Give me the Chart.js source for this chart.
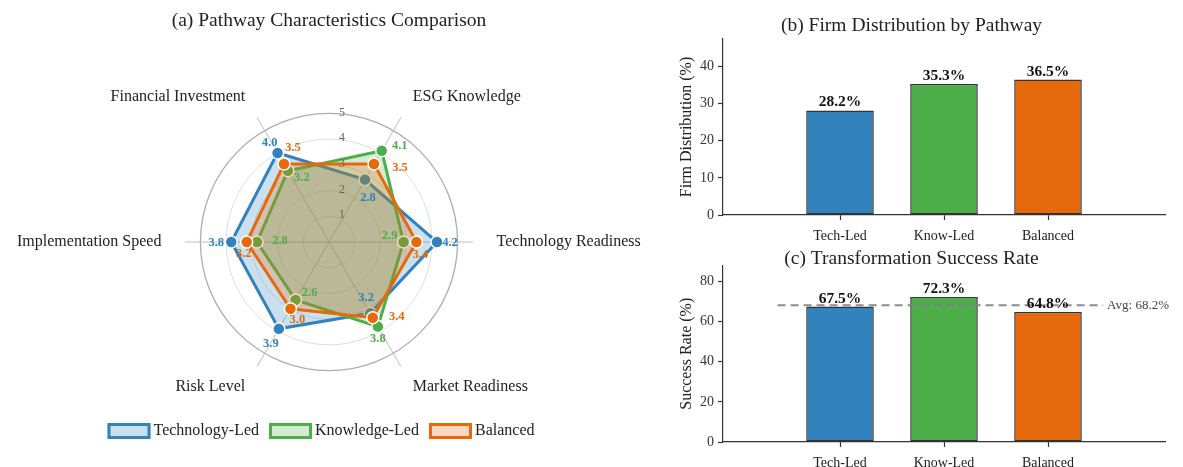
<!DOCTYPE html>
<html>
<head>
<meta charset="utf-8">
<script src="https://cdn.jsdelivr.net/npm/chart.js@4.4.1/dist/chart.umd.min.js"></script>
<style>
  body { margin: 0; background: #fff; }
  #wrap { position: relative; width: 1183px; height: 467px; overflow: hidden; }
  canvas { position: absolute; }
  #radar { left: 0; top: 0; }
  #firms { left: 658px; top: 0; }
  #success { left: 658px; top: 245px; }
</style>
</head>
<body>
<div id="wrap">
  <canvas id="radar" width="658" height="467"></canvas>
  <canvas id="firms" width="525" height="245"></canvas>
  <canvas id="success" width="525" height="222"></canvas>
</div>
<script>
// Radar dimensions, listed clockwise starting from the right-hand axis
const dimensions = ['Technology Readiness', 'Market Readiness', 'Risk Level',
                    'Implementation Speed', 'Financial Investment', 'ESG Knowledge'];
const techLed = [4.2, 3.2, 3.9, 3.8, 4.0, 2.8];
const knowLed = [2.9, 3.8, 2.6, 2.8, 3.2, 4.1];
const balanced = [3.4, 3.4, 3.0, 3.2, 3.5, 3.5];
const radarTicks = [1, 2, 3, 4, 5];

// Bar panels
const pathways = ['Tech-Led', 'Know-Led', 'Balanced'];
const firmShare = [28.2, 35.3, 36.5];
const successRate = [67.5, 72.3, 64.8];
const avgSuccess = 68.2;
const avgSpan = [-0.6, 2.53];

// pixel nudges for the value labels on the radar (one pair per dimension)
const techShift = [[13, 1], [-4, -15], [-8, 15], [-15, 1], [-8, -10], [3, 18]];
const knowShift = [[-14, -6], [0, 12], [14, -7], [23, -1], [14, 7], [18, -5]];
const balShift = [[4, 13], [24, -1], [7, 11], [-3, 12], [9, -16], [26, 4]];
const labelShift = [techShift, knowShift, balShift];

const SERIF = '"Liberation Serif", "Times New Roman", serif';
const BLUE = '#3182bd';
const GREEN = '#4daf4a';
const ORANGE = '#e6690b';
const PATH_COLORS = [BLUE, GREEN, ORANGE];

Chart.defaults.font.family = SERIF;
Chart.defaults.color = '#222';

function fade(hex, a) {
    const n = parseInt(hex.slice(1), 16);
    return `rgba(${(n >> 16) & 255}, ${(n >> 8) & 255}, ${n & 255}, ${a})`;
}

function radarSeries(label, data, color, order) {
    return {
        label: label,
        data: data,
        order: order,
        fill: true,
        borderColor: color,
        backgroundColor: fade(color, 0.25),
        borderWidth: 3,
        pointRadius: 6,
        pointHoverRadius: 6,
        pointBackgroundColor: color,
        pointBorderColor: '#fff',
        pointBorderWidth: 1.5
    };
}

// Text for the radar: ring numbers, dimension names, values and the legend
const radarText = {
    id: 'radarText',
    afterDatasetsDraw(chart) {
        const ctx = chart.ctx;
        const r = chart.scales.r;
        ctx.save();
        ctx.textBaseline = 'middle';

        ctx.font = '12px ' + SERIF;
        ctx.fillStyle = '#666';
        ctx.textAlign = 'center';
        radarTicks.forEach(t => {
            ctx.fillText(String(t), r.xCenter + 13, r.yCenter - r.getDistanceFromCenterForValue(t) - 1);
        });

        ctx.font = '16px ' + SERIF;
        ctx.fillStyle = '#222';
        const nameDist = r.getDistanceFromCenterForValue(5) + 39;
        chart.data.labels.forEach((name, i) => {
            const p = r.getPointPosition(i, nameDist);
            ctx.textAlign = p.x > r.xCenter + 1 ? 'left' : (p.x < r.xCenter - 1 ? 'right' : 'center');
            ctx.fillText(name, p.x, p.y);
        });

        ctx.font = 'bold 12.5px ' + SERIF;
        ctx.textAlign = 'center';
        chart.data.datasets.forEach((ds, d) => {
            ctx.fillStyle = ds.borderColor;
            ds.data.forEach((v, i) => {
                const p = r.getPointPositionForValue(i, v);
                const s = labelShift[d][i];
                ctx.fillText(v.toFixed(1), p.x + s[0], p.y + s[1]);
            });
        });
        ctx.restore();
    },
    afterDraw(chart) {
        // legend row under the radar
        const ctx = chart.ctx;
        const r = chart.scales.r;
        const boxW = 43, boxH = 16, gap = 3, spacing = 10;
        ctx.save();
        ctx.font = '16px ' + SERIF;
        const items = chart.data.datasets.map(ds => ({ ds: ds, w: ctx.measureText(ds.label).width }));
        const total = items.reduce((s, it) => s + boxW + gap + it.w, 0) + spacing * (items.length - 1);
        let x = r.xCenter - 8 - total / 2;
        const y = 431;
        items.forEach(it => {
            ctx.fillStyle = '#fff';
            ctx.fillRect(x, y - boxH / 2, boxW, boxH);
            ctx.fillStyle = it.ds.backgroundColor;
            ctx.fillRect(x, y - boxH / 2, boxW, boxH);
            ctx.lineWidth = 3;
            ctx.strokeStyle = it.ds.borderColor;
            ctx.strokeRect(x + 1.5, y - boxH / 2 + 1.5, boxW - 3, boxH - 3);
            ctx.fillStyle = '#222';
            ctx.textAlign = 'left';
            ctx.textBaseline = 'middle';
            ctx.fillText(it.ds.label, x + boxW + gap, y);
            x += boxW + gap + it.w + spacing;
        });
        ctx.restore();
    }
};

new Chart(document.getElementById('radar'), {
    type: 'radar',
    data: {
        labels: dimensions,
        datasets: [
            radarSeries('Technology-Led', techLed, BLUE, 3),
            radarSeries('Knowledge-Led', knowLed, GREEN, 2),
            radarSeries('Balanced', balanced, ORANGE, 1)
        ]
    },
    options: {
        responsive: false,
        animation: false,
        devicePixelRatio: 1,
        layout: { padding: { top: 0, bottom: 81 } },
        elements: { line: { tension: 0 } },
        plugins: {
            legend: { display: false },
            tooltip: { enabled: false },
            title: {
                display: true,
                text: '(a) Pathway Characteristics Comparison',
                color: '#222',
                font: { family: SERIF, size: 19.5, weight: 'normal', lineHeight: '14px' },
                padding: { top: 14, bottom: 70 }
            }
        },
        scales: {
            r: {
                min: 0,
                max: 5.6,
                startAngle: 90,
                ticks: { display: false, stepSize: 1 },
                pointLabels: { display: false },
                grid: {
                    circular: true,
                    color: c => (c.tick && c.tick.value === 5) ? '#adadad'
                        : (c.tick && c.tick.value > 5 ? 'rgba(0,0,0,0)' : '#dedede'),
                    lineWidth: c => (c.tick && c.tick.value === 5) ? 1.3 : 1
                },
                angleLines: { color: '#bdbdbd', lineWidth: 1 }
            }
        }
    },
    plugins: [radarText]
});

// value labels above bars, and the average note on panel (c)
const barValues = {
    id: 'barValues',
    afterDatasetsDraw(chart) {
        const ctx = chart.ctx;
        const meta = chart.getDatasetMeta(0);
        const pts = chart.data.datasets[0].data;
        ctx.save();
        ctx.font = 'bold 15.5px ' + SERIF;
        ctx.fillStyle = '#111';
        ctx.textAlign = 'center';
        ctx.textBaseline = 'alphabetic';
        meta.data.forEach((bar, i) => {
            ctx.fillText(pts[i].y.toFixed(1) + '%', bar.x, bar.y - 4);
        });
        ctx.restore();
    }
};

const avgNote = {
    id: 'avgNote',
    afterDatasetsDraw(chart) {
        const ctx = chart.ctx;
        ctx.save();
        ctx.font = '13px ' + SERIF;
        ctx.fillStyle = '#444';
        ctx.textAlign = 'left';
        ctx.textBaseline = 'middle';
        ctx.fillText('Avg: ' + avgSuccess.toFixed(1) + '%',
            chart.scales.x.getPixelForValue(avgSpan[1]) + 4,
            chart.scales.y.getPixelForValue(avgSuccess));
        ctx.restore();
    }
};

function barPanel(id, title, yTitle, values, yMax, step, titlePad, axisH, extra, extraPlugins) {
    return new Chart(document.getElementById(id), {
        type: 'bar',
        data: {
            datasets: [{
                data: values.map((v, i) => ({ x: i, y: v })),
                backgroundColor: PATH_COLORS,
                borderColor: '#333',
                borderWidth: 1.5,
                borderSkipped: false,
                categoryPercentage: 1,
                barPercentage: 0.65
            }].concat(extra || [])
        },
        options: {
            responsive: false,
            animation: false,
            devicePixelRatio: 1,
            layout: { padding: { left: 0, right: 18, top: 0, bottom: 0 } },
            plugins: {
                legend: { display: false },
                tooltip: { enabled: false },
                title: {
                    display: true,
                    text: title,
                    color: '#222',
                    font: { family: SERIF, size: 19.5, weight: 'normal', lineHeight: '14px' },
                    padding: titlePad
                }
            },
            scales: {
                x: {
                    type: 'linear',
                    min: -1.125,
                    max: 3.125,
                    offset: false,
                    grid: { display: true, offset: false, drawOnChartArea: false, tickLength: 5, tickColor: '#333', tickWidth: 1.2 },
                    border: { color: '#333', width: 1.2 },
                    afterBuildTicks: s => { s.ticks = pathways.map((p, i) => ({ value: i })); },
                    afterFit: s => { s.height = axisH; },
                    ticks: {
                        callback: v => pathways[v],
                        autoSkip: false,
                        maxRotation: 0,
                        padding: 7.5,
                        color: '#222',
                        font: { size: 14 }
                    }
                },
                y: {
                    min: 0,
                    max: yMax,
                    grid: { display: true, drawOnChartArea: false, tickLength: 5, tickColor: '#333', tickWidth: 1.2 },
                    border: { color: '#333', width: 1.2 },
                    afterFit: s => { s.width = 65; },
                    ticks: { stepSize: step, includeBounds: false, padding: 4, color: '#333', font: { size: 14 } },
                    title: {
                        display: true,
                        text: yTitle,
                        color: '#222',
                        font: { size: 16 },
                        padding: { top: 19.4, bottom: 0 }
                    }
                }
            }
        },
        plugins: [barValues].concat(extraPlugins || [])
    });
}

barPanel('firms', '(b) Firm Distribution by Pathway', 'Firm Distribution (%)',
    firmShare, 47.45, 10, { top: 19, bottom: 6 }, 30);

barPanel('success', '(c) Transformation Success Rate', 'Success Rate (%)',
    successRate, 88, 20, { top: 6.5, bottom: 0 }, 25,
    [{
        type: 'line',
        data: avgSpan.map(x => ({ x: x, y: avgSuccess })),
        borderColor: 'rgba(128,128,128,0.9)',
        borderWidth: 2,
        borderDash: [8, 5],
        pointRadius: 0,
        fill: false,
        order: -1
    }],
    [avgNote]);
</script>
</body>
</html>
